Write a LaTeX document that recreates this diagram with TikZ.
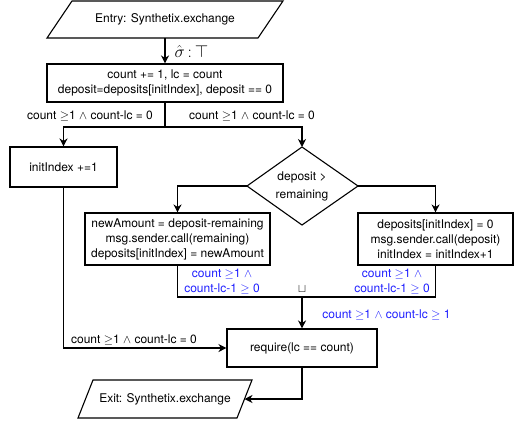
\documentclass[tikz,border=0pt]{standalone}
\usepackage{amsmath}
\usepackage{amssymb}
\usepackage{fontspec}
\setmainfont{TeX Gyre Heros}
\usetikzlibrary{arrows.meta}
\definecolor{condblue}{RGB}{30,30,255}

\tikzset{
  txt/.style={font=\fontsize{12}{15}\selectfont},
  procbox/.style={txt,draw,rectangle,inner sep=0pt,align=center},
  decbox/.style={txt,inner sep=0pt,align=center},
  cond/.style={txt,text=condblue,inner sep=0pt,align=center},
  lbl/.style={txt,inner sep=0pt},
  flow/.style={-{Stealth[length=8pt,width=8pt,inset=2.5pt]}}
}

\begin{document}
\begin{tikzpicture}[x=1pt,y=-1pt,line width=1.1pt]
  \useasboundingbox (0,0) rectangle (532,423);

  % entry and first block
  \draw (72,1) -- (283,1) -- (258,38) -- (47,38) -- cycle;
  \node[lbl] (entry) at (165,19.5) {Entry: Synthetix.exchange};
  \coordinate (entryout) at (165,38);
  \node[procbox,minimum width=236pt,minimum height=38pt] (init) at (165,83) {count += 1, lc = count\\deposit=deposits[initIndex], deposit == 0};
  \draw[flow] (entryout) -- (init);
  \node[inner sep=0pt,anchor=west,font=\fontsize{16}{18}\selectfont] (sigma) at (174,51) {$\hat{\sigma}\,\mathbf{:}\,\top$};

  % split
  \coordinate (split) at (165,127);
  \node[lbl] (lsplit) at (90,116) {count $\geq$1 $\wedge$ count-lc = 0};
  \node[lbl] (rsplit) at (252,116) {count $\geq$1 $\wedge$ count-lc = 0};
  \node[procbox,minimum width=107pt,minimum height=40pt] (incr) at (63.5,167) {initIndex +=1};
  \draw (302,147) -- (358,186) -- (302,225) -- (247,186) -- cycle;
  \node[decbox] (dec) at (302,186) {deposit >\\[3pt]remaining};
  \coordinate (dectop) at (302,147);
  \coordinate (decleft) at (247,186);
  \coordinate (decright) at (358,186);
  \draw (init) -- (split);
  \draw[flow] (split) -| (incr);
  \draw[flow] (split) -| (dectop);

  % branches
  \node[procbox,minimum width=185pt,minimum height=52pt] (less) at (177.5,239) {newAmount = deposit-remaining\\msg.sender.call(remaining)\\deposits[initIndex] = newAmount};
  \node[procbox,minimum width=155pt,minimum height=52pt] (more) at (435.5,239) {deposits[initIndex] = 0\\msg.sender.call(deposit)\\initIndex = initIndex+1};
  \draw[flow] (decleft) -| (less);
  \draw[flow] (decright) -| (more);
  \node[cond] (lcond) at (222,281.5) {count $\geq$1 $\wedge$\\count-lc-1 $\geq$ 0};
  \node[cond] (rcond) at (392,281.5) {count $\geq$1 $\wedge$\\count-lc-1 $\geq$ 0};

  % join
  \coordinate (join) at (302,297);
  \node[lbl] (cup) at (302,289) {$\sqcup$};
  \draw (less.south) |- (join) -| (more.south);
  \node[procbox,minimum width=150pt,minimum height=38pt] (req) at (302,348) {require(lc == count)};
  \draw[flow] (join) -- (req);
  \node[cond] (jcond) at (386.5,315) {count $\geq$1 $\wedge$ count-lc $\geq$ 1};
  \draw[flow] (incr) |- (req.west);
  \node[lbl] (skip) at (134,340) {count $\geq$1 $\wedge$ count-lc = 0};

  % exit
  \draw (93,380) -- (252,380) -- (237,418) -- (78,418) -- cycle;
  \node[lbl] (exit) at (165,399) {Exit: Synthetix.exchange};
  \coordinate (exitin) at (244.5,399);
  \draw[flow] (req) |- (exitin);
\end{tikzpicture}
\end{document}
